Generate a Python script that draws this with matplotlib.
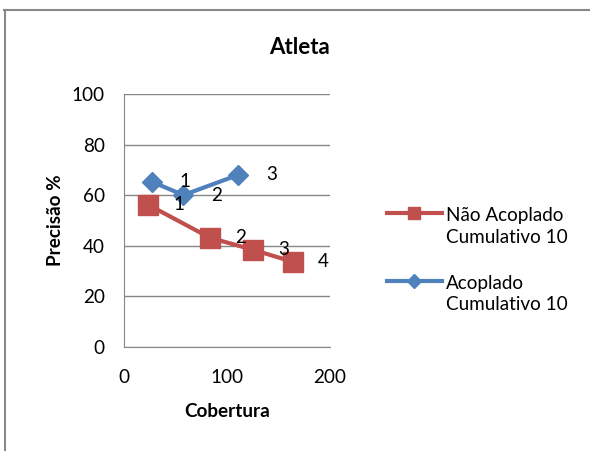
import matplotlib.pyplot as plt
from matplotlib.lines import Line2D

plt.rcParams["font.family"] = ["Lato", "DejaVu Sans"]

# Não Acoplado Cumulativo 10
nao_x = [23.5, 83.3, 125.6, 163.7]
nao_y = [56.1, 43.1, 38.3, 33.6]
nao_lbl = ["1", "2", "3", "4"]

# Acoplado Cumulativo 10
aco_x = [26.6, 57.5, 110.9]
aco_y = [65.3, 60.0, 68.0]
aco_lbl = ["1", "2", "3"]

red = "#C0504D"
blue = "#4F81BD"
grid_c = "#868686"
fs = 13.6

fig = plt.figure(figsize=(5.9, 4.51), dpi=100)
ax = fig.add_axes([0.2107, 0.2313, 0.3486, 0.5603])

ax.plot(nao_x, nao_y, color=red, lw=3, marker="s", ms=14, mec=red, zorder=3)
ax.plot(aco_x, aco_y, color=blue, lw=3, marker="D", ms=10, mec=blue, zorder=3)

for x, y, t in zip(nao_x, nao_y, nao_lbl):
    ax.annotate(t, (x, y), xytext=(22, 0), textcoords="offset points",
                ha="center", va="center", fontsize=fs, zorder=4)
for x, y, t in zip(aco_x, aco_y, aco_lbl):
    ax.annotate(t, (x, y), xytext=(24, 0), textcoords="offset points",
                ha="center", va="center", fontsize=fs, zorder=4)

ax.set_xlim(0, 200)
ax.set_ylim(0, 100)
ax.set_xticks([0, 100, 200])
ax.set_yticks([0, 20, 40, 60, 80, 100])
ax.tick_params(axis="y", length=0, labelsize=fs, pad=14)
ax.tick_params(axis="x", length=0, labelsize=fs, pad=16)
ax.grid(axis="y", color=grid_c, lw=1)
for s in ["top", "right"]:
    ax.spines[s].set_visible(False)
for s in ["left", "bottom"]:
    ax.spines[s].set_color(grid_c)
ax.set_axisbelow(True)

ax.set_xlabel("Cobertura", fontsize=fs, fontweight="bold", labelpad=12)
ax.set_ylabel("Precisão %", fontsize=fs, fontweight="bold", labelpad=6)
fig.text(0.508, 0.895, "Atleta", fontsize=16, fontweight="bold",
         ha="center", va="center")

# legend drawn by hand so the handle sits beside the first text line
for hy, ty, c, m, ms, label in [
    (0.5277, 0.4978, red, "s", 9, "Não Acoplado\nCumulativo 10"),
    (0.3769, 0.3481, blue, "D", 7, "Acoplado\nCumulativo 10"),
]:
    fig.add_artist(Line2D([0.656, 0.749], [hy, hy], color=c, lw=3))
    fig.add_artist(Line2D([0.7025], [hy], color=c, marker=m, ms=ms, mec=c))
    fig.text(0.756, ty, label, fontsize=fs, ha="left", va="center",
             linespacing=1.3)

# chart area border (top and left edges)
fig.add_artist(Line2D([0.007, 1.0], [0.978, 0.978], color="#888888", lw=1.5))
fig.add_artist(Line2D([0.008, 0.008], [0.0, 0.978], color="#888888", lw=1.5))

fig.savefig("out.png", dpi=100)
